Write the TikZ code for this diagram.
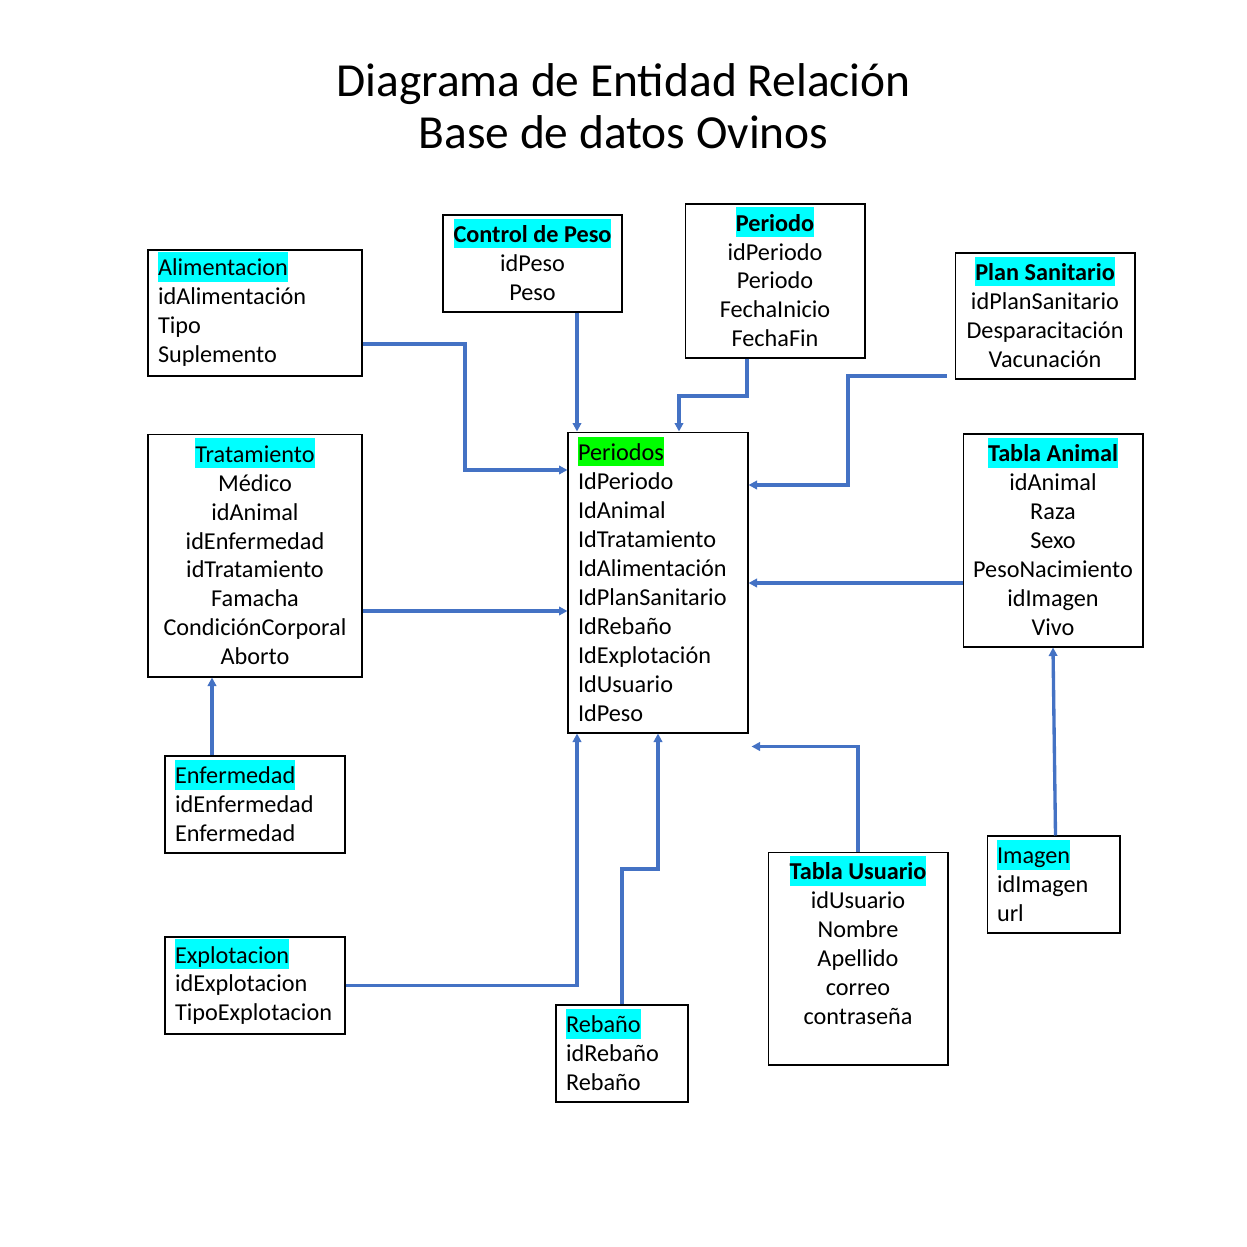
\documentclass[tikz,border=0pt]{standalone}
\usepackage{fontspec}
\setmainfont{Carlito}
\usetikzlibrary{arrows.meta}

\definecolor{celeste}{HTML}{00FFFF}
\definecolor{verdeclaro}{HTML}{00FF00}
\definecolor{azullinea}{HTML}{4472C4}

\hyphenpenalty=10000
\newcommand{\encabezado}[2]{\begingroup\fboxsep=0pt\relax\colorbox{#1}{\vrule width 0pt height 13.6pt depth 3.4pt#2}\endgroup}

\begin{document}
\begin{tikzpicture}[x=0.02cm, y=-0.02cm,
		tabla/.style={draw, line width=0.6pt, inner xsep=0.2cm, inner ysep=0pt, font=\fontsize{13.8}{16.5}\selectfont},
		tablacen/.style={tabla, align=center, minimum width=3.6cm, text depth=4.5pt},
		tablaizq/.style={tabla, align=left, text height=9.6pt},
		enlace/.style={draw=azullinea, line width=1.9pt, -{Triangle[length=0.17cm, width=0.17cm]}}]
		\useasboundingbox (0,0) rectangle (1247,1247);
		\node at (623.5,106) [align=center, font=\fontsize{27}{29.6}\selectfont] (titulo) {Diagrama de Entidad Relación\\Base de datos Ovinos};
		
		% tablas
		\node at (255,313) [tablaizq, text width=3.88cm, minimum height=2.52cm] (alim) {\encabezado{celeste}{Alimentacion}\\idAlimentación\\Tipo\\Suplemento};
		\node at (532.5,263.5) [tablacen, minimum width=3.58cm, minimum height=1.94cm] (peso) {\encabezado{celeste}{\textbf{Control de Peso}}\\idPeso\\Peso};
		\node at (775,281) [tablacen, minimum height=3.08cm] (periodo) {\encabezado{celeste}{\textbf{Periodo}}\\idPeriodo\\Periodo\\FechaInicio\\FechaFin};
		\node at (1045,316) [tablacen, minimum height=2.52cm] (plan) {\encabezado{celeste}{\textbf{Plan Sanitario}}\\idPlanSanitario\\Desparacitación\\Vacunación};
		
		\node at (255,555.5) [tablacen, minimum width=4.28cm, minimum height=4.86cm] (trat) {\encabezado{celeste}{Tratamiento}\\Médico\\idAnimal\\idEnfermedad\\idTratamiento\\Famacha\\CondiciónCorporal\\Aborto};
		\node at (658,582.5) [tablaizq, text width=3.2cm, minimum height=6.02cm] (periodos) {\encabezado{verdeclaro}{Periodos}\\IdPeriodo\\IdAnimal\\IdTratamiento\\IdAlimentación\\IdPlanSanitario\\IdRebaño\\IdExplotación\\IdUsuario\\IdPeso};
		\node at (1053,540.5) [tablacen, minimum height=4.26cm] (animal) {\encabezado{celeste}{\textbf{Tabla Animal}}\\idAnimal\\Raza\\Sexo\\PesoNacimiento\\idImagen\\Vivo};
		
		\node at (255,804.5) [tablaizq, text width=3.2cm, minimum height=1.94cm] (enf) {\encabezado{celeste}{Enfermedad}\\idEnfermedad\\Enfermedad};
		\node at (255,985.5) [tablaizq, text width=3.2cm, minimum height=1.94cm] (expl) {\encabezado{celeste}{Explotacion}\\idExplotacion\\TipoExplotacion};
		\node at (622,1053.5) [tablaizq, text width=2.24cm, minimum height=1.94cm] (reb) {\encabezado{celeste}{Rebaño}\\idRebaño\\Rebaño};
		\node at (858,958.5) [tablacen, minimum height=4.26cm] (usu) {\encabezado{celeste}{\textbf{Tabla Usuario}}\\idUsuario\\Nombre\\Apellido\\correo\\contraseña\\\strut};
		\node at (1053.5,884.5) [tablaizq, text width=2.26cm, minimum height=1.94cm] (img) {\encabezado{celeste}{Imagen}\\idImagen\\url};
		
		% relaciones
		\draw [enlace] (alim.east |- 0,344) -| (465,470) -- (periodos.west |- 0,470);
		\draw [enlace] (peso.south -| 577,0) -- (periodos.north -| 577,0);
		\draw [enlace] (periodo.south -| 747,0) |- (679,396) -- (periodos.north -| 679,0);
		\draw [enlace] ([xshift=-0.16cm,yshift=-1.2cm]plan.west) -| (848,485) -- (periodos.east |- 0,485);
		\draw [enlace] (animal.west |- 0,583) -- (periodos.east |- 0,583);
		\draw [enlace] (trat.east |- 0,611) -- (periodos.west |- 0,611);
		\draw [enlace] (enf.north -| 212,0) -- (trat.south -| 212,0);
		\draw [enlace] (expl.east) -| (periodos.south -| 577,0);
		\draw [enlace] (reb.north) |- (658,869) -- (periodos.south);
		\draw [enlace] (usu.north) |- ([xshift=0.06cm,yshift=-0.26cm]periodos.south east);
		\draw [enlace] ([xshift=0.04cm]img.north) -- (animal.south);
\end{tikzpicture}
\end{document}
